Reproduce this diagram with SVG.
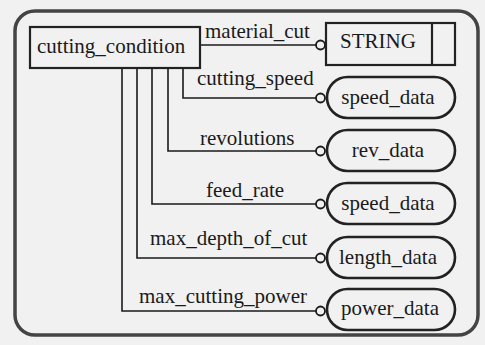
<svg xmlns="http://www.w3.org/2000/svg" width="485" height="345" viewBox="0 0 485 345">
<style>
text{font-family:"Liberation Serif","Times New Roman",serif;font-size:21px;fill:#1a1a1a}
.c{text-anchor:middle}
.ln{fill:none;stroke:#1a1a1a;stroke-width:1.6}
.box{fill:#f1f1f1;stroke:#222;stroke-width:2.2}
.pill{fill:#f1f1f1;stroke:#222;stroke-width:2.6}
.dot{fill:#f1f1f1;stroke:#1a1a1a;stroke-width:1.8}
</style>
<rect x="0" y="0" width="485" height="345" fill="#f1f1f1"/>
<rect x="15" y="11" width="463" height="324" rx="20" fill="none" stroke="#444" stroke-width="3.5"/>
<g id="connectors">
<path class="ln" d="M200 45 H316"/>
<path class="ln" d="M183 68 V98 H316"/>
<path class="ln" d="M168 68 V151 H316"/>
<path class="ln" d="M152 68 V204 H316"/>
<path class="ln" d="M137 68 V258 H316"/>
<path class="ln" d="M122 68 V311 H316"/>
<circle class="dot" cx="320.5" cy="45" r="4.5"/>
<circle class="dot" cx="320.5" cy="98" r="4.5"/>
<circle class="dot" cx="320.5" cy="151" r="4.5"/>
<circle class="dot" cx="320.5" cy="204" r="4.5"/>
<circle class="dot" cx="320.5" cy="258" r="4.5"/>
<circle class="dot" cx="320.5" cy="311" r="4.5"/>
<text x="205" y="38">material_cut</text>
<text x="197" y="85">cutting_speed</text>
<text x="200" y="145">revolutions</text>
<text x="206" y="197">feed_rate</text>
<text x="150" y="245">max_depth_of_cut</text>
<text x="139" y="303">max_cutting_power</text>
</g>
<g id="cutting_condition">
<rect class="box" x="30" y="27" width="170" height="41"/>
<text x="37" y="53">cutting_condition</text>
</g>
<g id="string">
<rect class="box" x="326" y="23" width="129" height="42"/>
<line x1="432" y1="23" x2="432" y2="65" stroke="#222" stroke-width="2.2"/>
<text x="340" y="48">STRING</text>
</g>
<g id="speed_data_1">
<rect class="pill" x="327" y="77" width="128" height="41" rx="20.5"/>
<text class="c" x="388" y="104">speed_data</text>
</g>
<g id="rev_data">
<rect class="pill" x="327" y="130" width="128" height="41" rx="20.5"/>
<text class="c" x="388" y="157">rev_data</text>
</g>
<g id="speed_data_2">
<rect class="pill" x="327" y="183" width="128" height="41" rx="20.5"/>
<text class="c" x="388" y="210">speed_data</text>
</g>
<g id="length_data">
<rect class="pill" x="327" y="237" width="128" height="41" rx="20.5"/>
<text class="c" x="388" y="264">length_data</text>
</g>
<g id="power_data">
<rect class="pill" x="327" y="289" width="128" height="41" rx="20.5"/>
<text class="c" x="390" y="315">power_data</text>
</g>
</svg>
